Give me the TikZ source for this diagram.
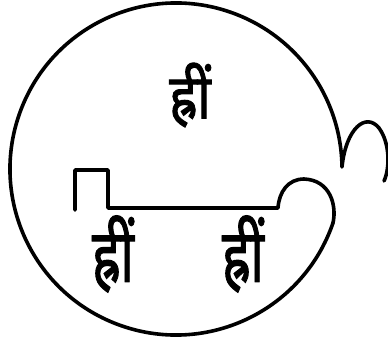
\documentclass[tikz,border=0pt]{standalone}
\usepackage{fontspec}
\usepackage{graphicx}
\newfontfamily\deva[Script=Devanagari,FakeBold=1.6]{Noto Sans}
\begin{document}
\begin{tikzpicture}[x=1pt,y=-1pt,
  ink/.style={line width=3.6pt,line join=round,line cap=round},
  mantra/.style={font=\deva\fontsize{#1}{#1}\selectfont,inner sep=0pt}]
\useasboundingbox (0,0) rectangle (388,342);
\coordinate (c) at (176,169);
\draw[ink] (c) ++(19:166) coordinate (j)
  arc[start angle=19,end angle=359.3,radius=166] coordinate (h)
  .. controls (346,128) and (366,112) .. (379,128)
  .. controls (390,143) and (390,168) .. (384,181);
\draw[ink] (j) .. controls (337,205) and (330,180) .. (304,179)
  .. controls (288,179) and (279,192) .. (278,208) coordinate (r)
  -- (108,208) coordinate (a) -- (108,170) coordinate (b)
  -- (75,170) coordinate (d) -- (75,210) coordinate (e);
\node[mantra=62] (t) at (190,95) {\scalebox{0.85}[1]{ह्रीं}};
\node[mantra=74] (l) at (113,254) {\scalebox{0.72}[1]{ह्रीं}};
\node[mantra=74] (rr) at (243,254) {\scalebox{0.72}[1]{ह्रीं}};
\end{tikzpicture}
\end{document}
